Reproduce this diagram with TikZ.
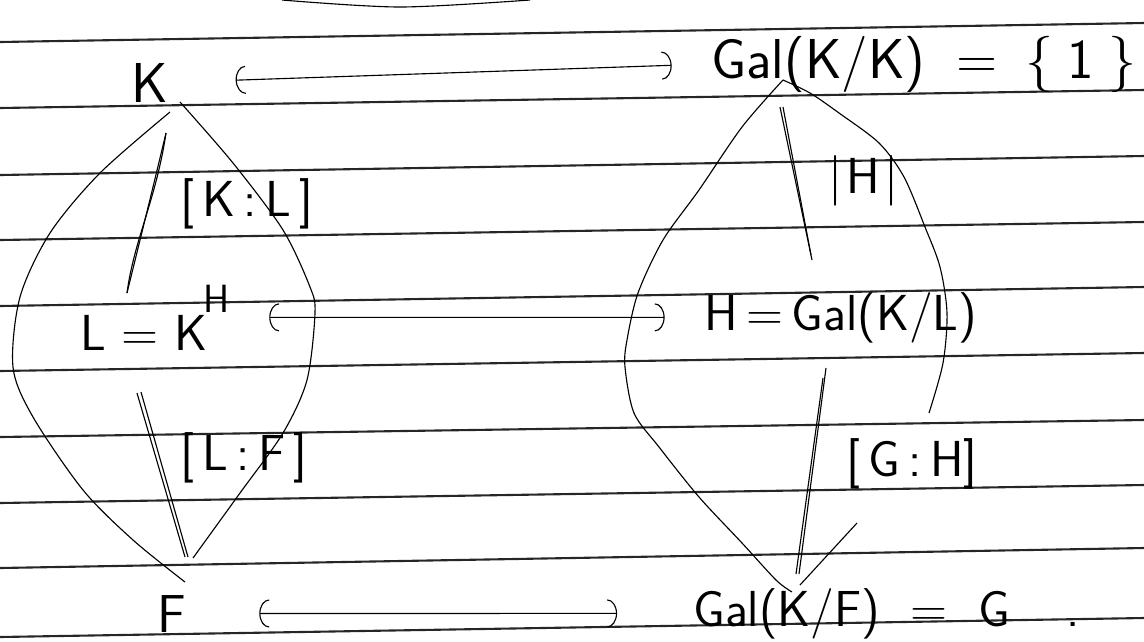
\documentclass[tikz,border=0pt]{standalone}
\usetikzlibrary{arrows.meta,calc}
\begin{document}
\begin{tikzpicture}[x=0.025cm,y=-0.025cm,
  rule/.style={line width=1.5pt,black!85},
  pen/.style={line width=0.8pt,black},
  txt/.style={inner sep=0pt,anchor=base west,font=\sffamily\fontsize{36}{40}\selectfont},
  lbl/.style={inner sep=0pt,anchor=base west,font=\sffamily\fontsize{36}{40}\selectfont},
  biarrow/.style={pen,{Arc Barb[length=7pt,width=20pt]}-{Arc Barb[length=7pt,width=20pt]}}]
\useasboundingbox (0,0) rectangle (1144,641);
% ruled paper
\draw[pen] plot[smooth] coordinates {(282,0) (400,7) (530,0)};
\foreach \l/\r in {42/23,108/90,175/156,240/222,306/287,371/353,437/420,503/485,568/548,637/618}
  \draw[rule] (0,\l) -- (1144,\r);
% nodes
\node[txt,font=\sffamily\fontsize{40}{44}\selectfont] (K) at (131,102) {K};
\node[txt,font=\sffamily\fontsize{40}{44}\selectfont] (GKK) at (711,78) {Gal(K/K)\hspace{22pt}=\hspace{20pt}\{\hspace{10pt}1\hspace{10pt}\}};
\node[txt] (L) at (80,350) {L = K\hspace{-3pt}\raisebox{27pt}{\fontsize{28}{30}\selectfont H}};
\node[txt] (H) at (704,330) {H\,=\,Gal(K/L)};
\node[txt,font=\sffamily\fontsize{38}{42}\selectfont] (F) at (157,632) {F};
\node[txt] (G) at (693,626) {Gal(K/F)\hspace{22pt}=\hspace{22pt}G\hspace{40pt}.};
% correspondences
\draw[biarrow,shorten <=48pt,shorten >=28pt] (K.east) -- (GKK.west);
\draw[biarrow,shorten <=28pt,shorten >=28pt] (L.east) -- (H.west);
\draw[biarrow,shorten <=52pt,shorten >=54pt] (F.east) -- (G.west);
% left lens
\draw[pen] plot[smooth] coordinates {(170,112) (100,173) (50,233) (20,297) (13,367) (33,417) (83,490) (133,540) (185,582)};
\draw[pen] plot[smooth] coordinates {(180,102) (233,163) (283,230) (310,287) (315,313) (307,380) (283,433) (240,493) (193,558)};
% left edges
\coordinate (kl1) at (166,133); \coordinate (kl2) at (127,293);
\coordinate (lf1) at (137,393); \coordinate (lf2) at (185,557);
\draw[pen] (kl1) .. controls (150,200) and (140,240) .. (kl2);
\draw[pen] (kl1) .. controls (156,200) and (134,240) .. (kl2);
\draw[pen] (lf1) -- (lf2);
\draw[pen] ($(lf1)+(4,-1)$) -- ($(lf2)+(3,0)$);
% right lens
\draw[pen] plot[smooth] coordinates {(783,80) (742,127) (699,190) (663,240) (638,293) (627,340) (625,367) (634,413) (659,447) (699,497) (742,543) (776,580) (792,592)};
\draw[pen] plot[smooth] coordinates {(783,80) (810,93) (839,113) (879,143) (904,177) (925,227) (940,267) (947,313) (943,363) (929,413)};
\draw[pen] (857,523) -- (800,585);
% right edges
\coordinate (gh1) at (780,107); \coordinate (gh2) at (812,260);
\coordinate (hg1) at (826,368); \coordinate (hg2) at (799,574);
\draw[pen] (gh1) -- (gh2);
\draw[pen] ($(gh1)+(3,0)$) -- ($(gh2)+(-1,-5)$);
\draw[pen] (hg1) -- (hg2);
\draw[pen] ($(hg1)+(-3,10)$) -- ($(hg2)+(-3,0)$);
% degree labels
\node[lbl] (dKL) at (180,216) {[\,K\,:\,L\,]};
\node[lbl] (dLF) at (180,470) {[\,L\,:\,F\,]};
\node[lbl] (dH) at (828,193) {|\hspace{3pt}H\hspace{3pt}|};
\node[lbl] (dGH) at (846,476) {[\,G\,:\,H]};
\end{tikzpicture}
\end{document}
